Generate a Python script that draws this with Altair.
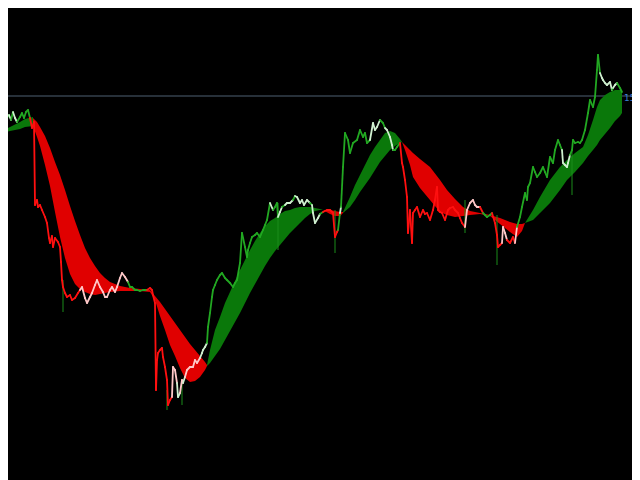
import altair as alt
import pandas as pd

# ---- price path (bar index ~ x, close price, colour code) ----
bar_x = [0, 2, 3, 5, 7, 9, 11, 13, 15, 17,
         20, 22, 24, 26, 28, 30, 32, 34, 35, 37,
         38, 40, 42, 45, 47, 49, 50, 52, 53, 55,
         58, 60, 61, 62, 63, 65, 67, 70, 72, 75,
         78, 80, 82, 85, 87, 90, 92, 95, 97, 100,
         103, 105, 107, 110, 112, 115, 117, 120, 122, 125,
         128, 130, 132, 135, 137, 140, 143, 147, 150, 152,
         153, 155, 156, 157, 158, 160, 162, 163, 165, 167,
         168, 170, 172, 173, 175, 177, 178, 180, 182, 183,
         185, 187, 190, 193, 195, 197, 200, 202, 203, 205,
         207, 208, 210, 212, 213, 215, 217, 220, 222, 225,
         227, 230, 233, 235, 237, 240, 242, 245, 247, 248,
         250, 252, 255, 257, 260, 263, 265, 267, 270, 273,
         275, 277, 278, 280, 282, 285, 287, 290, 293, 295,
         297, 300, 302, 304, 307, 310, 312, 313, 315, 318,
         320, 323, 327, 330, 333, 335, 337, 338, 340, 341,
         343, 345, 348, 350, 353, 357, 360, 363, 365, 367,
         370, 373, 375, 377, 380, 383, 385, 387, 390, 392,
         393, 395, 397, 400, 402, 403, 405, 407, 408, 410,
         412, 413, 415, 417, 420, 423, 425, 427, 430, 433,
         435, 437, 438, 440, 442, 445, 448, 450, 453, 455,
         458, 460, 462, 465, 467, 470, 473, 475, 477, 480,
         483, 485, 487, 490, 492, 495, 497, 498, 500, 502,
         503, 505, 507, 510, 513, 515, 517, 520, 522, 525,
         527, 528, 530, 533, 535, 537, 540, 543, 545, 547,
         550, 553, 555, 558, 560, 562, 563, 565, 567, 568,
         570, 572, 573, 575, 578, 580, 582, 585, 588, 590,
         593, 595, 597, 598, 600, 602, 603, 605, 607, 610,
         612, 613, 615, 617, 620, 622]
bar_close = [149.64, 149.68, 149.96, 149.84, 149.78, 149.81, 149.76, 149.84, 149.78, 149.74,
             149.79, 149.83, 149.78, 149.84, 149.86, 149.78, 149.68, 149.74, 148.91, 148.96,
             148.89, 148.91, 148.86, 148.79, 148.73, 148.58, 148.53, 148.60, 148.49, 148.58,
             148.54, 148.49, 148.34, 148.16, 148.09, 148.03, 147.99, 148.01, 147.96, 147.98,
             148.03, 148.06, 148.09, 147.98, 147.93, 147.99, 148.03, 148.11, 148.16, 148.09,
             148.04, 147.99, 147.99, 148.06, 148.09, 148.04, 148.09, 148.18, 148.23, 148.19,
             148.14, 148.09, 148.09, 148.06, 148.06, 148.05, 148.06, 148.06, 148.08, 148.06,
             148.01, 147.93, 147.06, 147.36, 147.43, 147.46, 147.48, 147.39, 147.29, 147.16,
             146.91, 146.96, 146.99, 147.29, 147.26, 147.13, 146.99, 147.03, 147.16, 147.13,
             147.19, 147.26, 147.29, 147.29, 147.36, 147.33, 147.38, 147.43, 147.46, 147.49,
             147.53, 147.69, 147.83, 147.99, 148.06, 148.11, 148.16, 148.21, 148.23, 148.18,
             148.16, 148.13, 148.09, 148.13, 148.16, 148.33, 148.63, 148.49, 148.39, 148.46,
             148.53, 148.59, 148.61, 148.63, 148.59, 148.66, 148.71, 148.76, 148.93, 148.86,
             148.89, 148.93, 148.79, 148.84, 148.89, 148.91, 148.93, 148.93, 148.96, 149.00,
             148.99, 148.93, 148.96, 148.91, 148.96, 148.93, 148.91, 148.83, 148.73, 148.78,
             148.82, 148.84, 148.86, 148.86, 148.83, 148.59, 148.64, 148.66, 148.83, 148.89,
             149.29, 149.63, 149.56, 149.43, 149.53, 149.56, 149.66, 149.59, 149.63, 149.53,
             149.56, 149.73, 149.66, 149.69, 149.76, 149.73, 149.68, 149.66, 149.59, 149.51,
             149.46, 149.46, 149.49, 149.53, 149.33, 149.29, 149.16, 148.99, 148.63, 148.86,
             148.53, 148.83, 148.86, 148.89, 148.79, 148.86, 148.82, 148.83, 148.76, 148.86,
             148.96, 149.09, 148.86, 148.84, 148.83, 148.76, 148.86, 148.88, 148.89, 148.86,
             148.83, 148.78, 148.73, 148.69, 148.86, 148.93, 148.96, 148.91, 148.89, 148.89,
             148.83, 148.81, 148.79, 148.81, 148.83, 148.73, 148.61, 148.49, 148.51, 148.53,
             148.69, 148.63, 148.56, 148.53, 148.59, 148.53, 148.69, 148.79, 148.89, 149.03,
             148.96, 149.09, 149.13, 149.29, 149.24, 149.19, 149.23, 149.29, 149.24, 149.19,
             149.39, 149.33, 149.46, 149.56, 149.51, 149.46, 149.33, 149.31, 149.29, 149.33,
             149.41, 149.46, 149.56, 149.53, 149.54, 149.53, 149.56, 149.66, 149.83, 149.96,
             149.89, 149.99, 150.26, 150.41, 150.23, 150.18, 150.16, 150.13, 150.11, 150.14,
             150.06, 150.08, 150.11, 150.13, 150.08, 150.04]
bar_color = list("WGGGGGWGWW" "GGGGGGRRRR" "RRRRRRRRRR" "RRRRRRRRRR"
                 "RRPPPPPPPP" "PPPPPPPPPP" "PGGGGGGGRR" "RRRRRRRRRR"
                 "RRRPPPWWPP" "WPPPPPPWWW" "WGGGGGGGGG" "GGGGGGGGGG"
                 "GGGGGGGGGW" "GGGWWGWWWG" "WWWWWWGWWW" "WGRRRRRRGW"
                 "GGGGGGGGGG" "GWWWWGGWWW" "WGGGRRRRRR" "RRRRRRRRRR"
                 "RRRRRRRRRR" "RRRRPPPPPP" "RGGGGRRRRR" "PPPRRRPGGG"
                 "GGGGGGGGGG" "GGGGGGWWWW" "WGGGGGGGGG" "GGGGGWWWWW"
                 "WGWWGG")

# a few long wicks
wick_x = [63, 167, 182, 278, 335, 465, 497, 572]
wick_hi = [148.16, 147.06, 147.16, 148.93, 148.86, 148.96, 148.81, 149.46]
wick_lo = [147.84, 146.86, 146.91, 148.46, 148.43, 148.63, 148.31, 149.01]

# ---- moving-average ribbon segments (upper / lower edge) ----
s1_x = [0, 10, 20, 25, 33]
s1_up = [149.64, 149.69, 149.74, 149.77, 149.79]
s1_lo = [149.62, 149.65, 149.67, 149.69, 149.70]

s2_x = [33, 37, 40, 45, 50, 55, 60, 65, 70, 75, 80, 85, 90, 95, 100, 105, 110, 120, 130, 140,
        150, 155, 160, 165, 170, 175, 180, 185, 190, 195, 200, 205, 207]
s2_up = [149.78, 149.74, 149.69, 149.60, 149.48, 149.34, 149.21, 149.06, 148.90, 148.75,
         148.61, 148.48, 148.38, 148.30, 148.23, 148.18, 148.14, 148.10, 148.08, 148.07,
         148.06, 148.00, 147.94, 147.87, 147.80, 147.73, 147.66, 147.59, 147.52, 147.46,
         147.40, 147.34, 147.31]
s2_lo = [149.70, 149.59, 149.50, 149.31, 149.10, 148.84, 148.59, 148.38, 148.22, 148.12,
         148.07, 148.04, 148.02, 148.01, 148.02, 148.03, 148.04, 148.05, 148.05, 148.05,
         148.04, 147.96, 147.80, 147.66, 147.51, 147.40, 147.28, 147.18, 147.14, 147.15,
         147.19, 147.26, 147.30]

s3_x = [207, 210, 215, 220, 225, 230, 235, 240, 245, 250, 255, 260, 265, 270, 275, 280, 285,
        290, 295, 300, 305, 310, 315, 320, 323]
s3_up = [147.31, 147.46, 147.66, 147.79, 147.93, 148.04, 148.15, 148.26, 148.36, 148.46,
         148.55, 148.63, 148.70, 148.75, 148.78, 148.82, 148.85, 148.86, 148.88, 148.89,
         148.89, 148.89, 148.88, 148.87, 148.86]
s3_lo = [147.30, 147.33, 147.40, 147.47, 147.56, 147.65, 147.74, 147.83, 147.93, 148.03,
         148.12, 148.21, 148.30, 148.38, 148.45, 148.51, 148.57, 148.63, 148.68, 148.73,
         148.78, 148.82, 148.85, 148.86, 148.86]

s4_x = [323, 330, 335, 340, 343]
s4_up = [148.86, 148.86, 148.85, 148.84, 148.84]
s4_lo = [148.86, 148.82, 148.80, 148.80, 148.83]

s5_x = [343, 350, 355, 360, 365, 370, 375, 380, 385, 390, 395, 400, 402]
s5_up = [148.84, 148.99, 149.11, 149.21, 149.31, 149.41, 149.49, 149.56, 149.63, 149.65,
         149.63, 149.57, 149.54]
s5_lo = [148.83, 148.89, 148.96, 149.04, 149.11, 149.18, 149.26, 149.34, 149.40, 149.46,
         149.50, 149.53, 149.54]

s6_x = [402, 405, 410, 413, 420, 430, 440, 447, 455, 463, 470, 480, 490, 500, 510, 517, 522, 525]
s6_up = [149.54, 149.51, 149.46, 149.43, 149.37, 149.29, 149.16, 149.06, 148.97, 148.89,
         148.85, 148.83, 148.81, 148.78, 148.74, 148.72, 148.72, 148.73]
s6_lo = [149.54, 149.46, 149.31, 149.19, 149.08, 148.96, 148.84, 148.81, 148.79, 148.80,
         148.81, 148.82, 148.80, 148.72, 148.64, 148.59, 148.65, 148.73]

s7_x = [525, 533, 540, 550, 560, 567, 575, 583, 588, 593, 597, 600, 605, 610, 615, 620, 622]
s7_up = [148.73, 148.86, 148.99, 149.16, 149.29, 149.36, 149.43, 149.49, 149.61, 149.76,
         149.89, 149.96, 150.01, 150.04, 150.06, 150.06, 150.06]
s7_lo = [148.73, 148.76, 148.83, 148.93, 149.06, 149.16, 149.24, 149.33, 149.40, 149.46,
         149.51, 149.56, 149.62, 149.68, 149.75, 149.80, 149.83]

level_price = 150.00
level_label = "150.00"

# ---- tables ----
segments = [("up", s1_x, s1_up, s1_lo), ("down", s2_x, s2_up, s2_lo),
            ("up", s3_x, s3_up, s3_lo), ("down", s4_x, s4_up, s4_lo),
            ("up", s5_x, s5_up, s5_lo), ("down", s6_x, s6_up, s6_lo),
            ("up", s7_x, s7_up, s7_lo)]
rows = []
for k, (trend, xs, ups, los) in enumerate(segments):
    for x, u, l in zip(xs, ups, los):
        rows.append({"seg": k, "trend": trend, "x": x, "upper": u, "lower": l})
band = pd.DataFrame(rows)

steps = pd.DataFrame({
    "x": bar_x[:-1], "y": bar_close[:-1],
    "x2": bar_x[1:], "y2": bar_close[1:],
    "c": bar_color[1:],
})
wicks = pd.DataFrame({"x": wick_x, "hi": wick_hi, "lo": wick_lo})

XS = alt.Scale(domain=[8, 632], nice=False, zero=False)
YS = alt.Scale(domain=[146.16, 150.88], nice=False, zero=False)

ribbon = alt.Chart(band).mark_area(clip=True, opacity=1, interpolate="linear").encode(
    x=alt.X("x:Q", scale=XS, axis=None),
    y=alt.Y("upper:Q", scale=YS, axis=None),
    y2="lower:Q",
    color=alt.Color("trend:N", scale=alt.Scale(domain=["up", "down"],
                                               range=["#0a780a", "#e00000"]), legend=None),
    detail="seg:N",
)

wick_layer = alt.Chart(wicks).mark_rule(clip=True, color="#1a8c1a", strokeWidth=1).encode(
    x=alt.X("x:Q", scale=XS, axis=None),
    y=alt.Y("hi:Q", scale=YS, axis=None),
    y2="lo:Q",
)

price = alt.Chart(steps).mark_rule(clip=True, strokeWidth=1.8, strokeCap="round").encode(
    x=alt.X("x:Q", scale=XS, axis=None),
    x2="x2:Q",
    y=alt.Y("y:Q", scale=YS, axis=None),
    y2="y2:Q",
    color=alt.Color("c:N", scale=alt.Scale(domain=["G", "R", "W", "P"],
                                           range=["#22a822", "#ff1010", "#d0f0d0", "#ffc8c8"]),
                    legend=None),
)

level_df = pd.DataFrame({"y": [level_price], "x": [624], "t": [level_label]})
level = alt.Chart(level_df).mark_rule(color="#4e6073", strokeWidth=1).encode(
    y=alt.Y("y:Q", scale=YS, axis=None))
label = alt.Chart(level_df).mark_text(align="left", baseline="middle", dy=2, fontSize=9,
                                      color="#3a7fd0", font="DejaVu Sans").encode(
    x=alt.X("x:Q", scale=XS, axis=None),
    y=alt.Y("y:Q", scale=YS, axis=None),
    text="t:N",
)

chart = alt.layer(level, ribbon, wick_layer, price, label).resolve_scale(
    color="independent"
).properties(
    width=624, height=472, background="black", padding=0,
    autosize=alt.AutoSizeParams(type="none"),
).configure_view(stroke=None)

chart.save("out.html", embed_options={"renderer": "svg", "actions": False})
